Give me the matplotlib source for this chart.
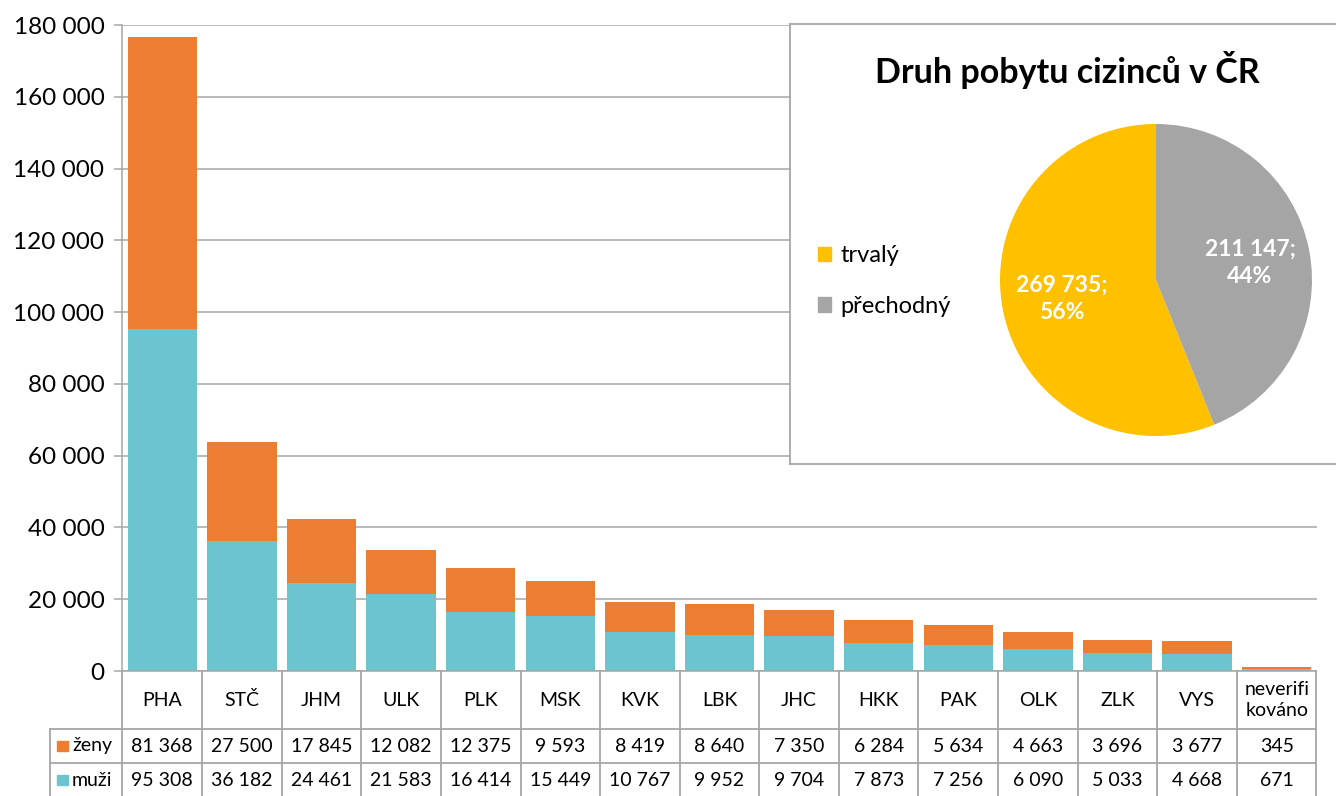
import matplotlib
matplotlib.use("Agg")
import matplotlib.pyplot as plt
from matplotlib.patches import Rectangle, Patch

plt.rcParams['font.family'] = ['Lato', 'DejaVu Sans']

# data
kraje = ['PHA', 'STČ', 'JHM', 'ULK', 'PLK', 'MSK', 'KVK', 'LBK', 'JHC', 'HKK',
         'PAK', 'OLK', 'ZLK', 'VYS', 'neverifi\nkováno']
zeny = [81368, 27500, 17845, 12082, 12375, 9593, 8419, 8640, 7350, 6284,
        5634, 4663, 3696, 3677, 345]
muzi = [95308, 36182, 24461, 21583, 16414, 15449, 10767, 9952, 9704, 7873,
        7256, 6090, 5033, 4668, 671]

pobyt_labels = ['trvalý', 'přechodný']
pobyt_values = [269735, 211147]
pobyt_pct = [56, 44]

C_ZENY = '#ED7D31'
C_MUZI = '#6BC4CE'
C_PIE = ['#FFC000', '#A5A5A5']
C_LINE = '#A6A6A6'

W, H = 1336, 796
fig = plt.figure(figsize=(W / 100, H / 100), dpi=100)


def fx(px):
    return px / W


def fy(py):
    return 1 - py / H


def fmt(v):
    return f'{v:,}'.replace(',', ' ')


# main bar chart
L, R, T, B = 122.5, 1316.5, 25, 671
ax = fig.add_axes([fx(L), fy(B), fx(R - L), (B - T) / H])
x = list(range(len(kraje)))
ax.bar(x, muzi, width=0.87, color=C_MUZI, zorder=2)
ax.bar(x, zeny, width=0.87, bottom=muzi, color=C_ZENY, zorder=2)
ax.set_xlim(-0.5, len(kraje) - 0.5)
ax.set_ylim(0, 180000)
ticks = list(range(0, 180001, 20000))
ax.set_yticks(ticks)
ax.set_yticklabels([fmt(t) for t in ticks], fontsize=17.5)
ax.set_xticks([])
ax.yaxis.grid(True, color=C_LINE, linewidth=1.1, zorder=0)
ax.tick_params(axis='y', length=6, width=1.1, color=C_LINE, pad=7)
for s in ['top', 'right']:
    ax.spines[s].set_visible(False)
for s in ['left', 'bottom']:
    ax.spines[s].set_color(C_LINE)
    ax.spines[s].set_linewidth(1.1)

# data table below
colw = (R - L) / len(kraje)
tab = fig.add_axes([fx(L), 0, fx(R - L), (H - B) / H])
tab.set_xlim(-0.5, len(kraje) - 0.5)
tab.set_ylim(H - B, 0)
tab.axis('off')


def px2x(px):
    return -0.5 + (px - L) / colw


lbl_left = px2x(50)
kw = dict(color=C_LINE, linewidth=1.3, clip_on=False)
for i in range(len(kraje) + 1):
    tab.plot([i - 0.5, i - 0.5], [0, 140], **kw)
tab.plot([lbl_left, lbl_left], [58, 140], **kw)
for yy in [58, 92]:
    tab.plot([lbl_left, len(kraje) - 0.5], [yy, yy], **kw)

for i, k in enumerate(kraje):
    tab.text(i, 29, k, ha='center', va='center', fontsize=14, linespacing=1.3)
    tab.text(i, 75, fmt(zeny[i]), ha='center', va='center', fontsize=14)
    tab.text(i, 109, fmt(muzi[i]), ha='center', va='center', fontsize=14)

for yc, name, col in [(75, 'ženy', C_ZENY), (109, 'muži', C_MUZI)]:
    tab.add_patch(Rectangle((px2x(57), yc - 5), px2x(68) - px2x(57), 10,
                            color=col, clip_on=False))
    tab.text(px2x(72), yc, name, ha='left', va='center', fontsize=14)

# pie inset with its own frame
box = fig.add_axes([fx(790), fy(464), fx(W - 790 + 20), 440 / H])
box.set_facecolor('white')
box.set_xticks([])
box.set_yticks([])
for s in box.spines.values():
    s.set_color(C_LINE)
    s.set_linewidth(1.3)
box.set_zorder(5)

fig.text(fx(1067), fy(70), 'Druh pobytu cizinců v ČR', ha='center', va='center',
         fontsize=24.5, fontweight='bold', zorder=10)

cx, cy, r = 1156, 280, 156
pax = fig.add_axes([fx(cx - r), fy(cy + r), fx(2 * r), 2 * r / H])
pax.set_zorder(6)
pax.pie(pobyt_values, colors=C_PIE, startangle=90, counterclock=True,
        wedgeprops=dict(linewidth=0))
pax.set_xlim(-1, 1)
pax.set_ylim(-1, 1)
pax.set_aspect('equal')

lab_pos = [(1062, 299), (1250, 263)]
for (px, py), v, p in zip(lab_pos, pobyt_values, pobyt_pct):
    fig.text(fx(px), fy(py), f'{fmt(v)};\n{p}%', ha='center', va='center',
             fontsize=16.5, fontweight='bold', color='white', linespacing=1.4,
             zorder=10)

handles = [Patch(color=c) for c in C_PIE]
leg = fig.legend(handles, pobyt_labels, loc='upper left',
                 bbox_to_anchor=(fx(797), fy(224)), frameon=False, fontsize=17,
                 handlelength=0.55, handleheight=0.55, handletextpad=0.4,
                 labelspacing=1.25)
leg.set_zorder(10)

fig.savefig('out.png', dpi=100, facecolor='white')
